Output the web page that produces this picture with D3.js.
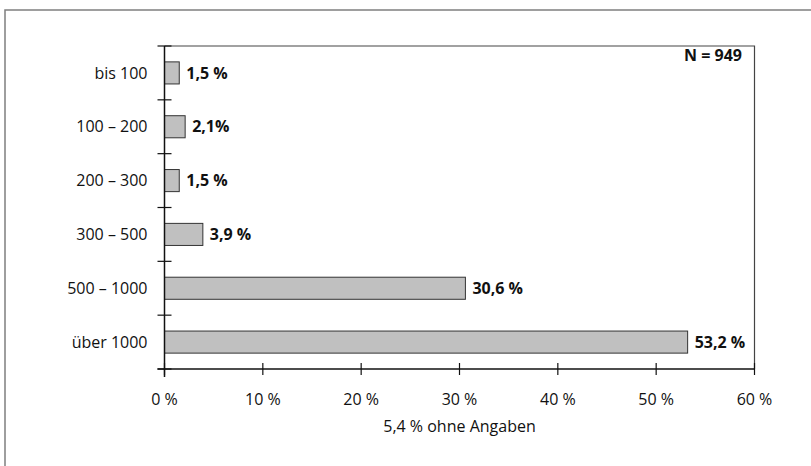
<!DOCTYPE html>
<html><head><meta charset="utf-8">
<script src="https://cdn.jsdelivr.net/npm/d3@7/dist/d3.min.js"></script>
<style>body{margin:0;background:#fff}svg{display:block;font-family:"Open Sans",sans-serif}</style>
</head><body><svg id="c" width="811" height="466"></svg>
<script>
const categories = ["bis 100","100 – 200","200 – 300","300 – 500","500 – 1000","über 1000"];
const values = [1.5, 2.1, 1.5, 3.9, 30.6, 53.2];
const valueLabels = ["1,5 %","2,1%","1,5 %","3,9 %","30,6 %","53,2 %"];
const xTicks = [0,10,20,30,40,50,60];
const xTickLabels = ["0 %","10 %","20 %","30 %","40 %","50 %","60 %"];
const nLabel = "N = 949";
const footnote = "5,4 % ohne Angaben";

const FS = 16;
const svg = d3.select("#c");
// outer frame
svg.append("rect").attr("x",5).attr("y",10).attr("width",900).attr("height",600)
  .attr("fill","none").attr("stroke","#7f7f7f").attr("stroke-width",1.5);

const L=164.5, R=754.5, T=46, B=369;
const x = d3.scaleLinear().domain([0,60]).range([L,R]);
const y = d3.scaleBand().domain(categories).range([T,B]).paddingInner(0.59).paddingOuter(0.295);
const yb = d3.scaleLinear().domain([0,categories.length]).range([T,B]);

// plot border (top/right)
svg.append("path").attr("d",`M${L},${T}H${R}V${B}`).attr("fill","none").attr("stroke","#444").attr("stroke-width",1.2);

// bars
svg.selectAll("rect.bar").data(values).join("rect").attr("class","bar")
  .attr("x",x(0)).attr("y",(d,i)=>y(categories[i]))
  .attr("width",d=>x(d)-x(0)).attr("height",y.bandwidth())
  .attr("fill","#c0c0c0").attr("stroke","#333").attr("stroke-width",1);

// value labels
svg.selectAll("text.val").data(values).join("text").attr("class","val")
  .attr("x",d=>x(d)+7).attr("y",(d,i)=>y(categories[i])+y.bandwidth()/2)
  .attr("dy","0.35em").attr("font-weight","bold").attr("font-size",FS).attr("fill","#111")
  .text((d,i)=>valueLabels[i]);

// y axis line and ticks
svg.append("line").attr("x1",L).attr("x2",L).attr("y1",T).attr("y2",B+8).attr("stroke","#111").attr("stroke-width",1.5);
svg.selectAll("line.yt").data(d3.range(categories.length+1)).join("line").attr("class","yt")
  .attr("x1",L-7).attr("x2",L+7).attr("y1",d=>yb(d)).attr("y2",d=>yb(d))
  .attr("stroke","#111").attr("stroke-width",1.2);
svg.selectAll("text.cat").data(categories).join("text").attr("class","cat")
  .attr("x",L-17).attr("y",d=>y(d)+y.bandwidth()/2).attr("dy","0.35em")
  .attr("text-anchor","end").attr("font-size",FS).attr("fill","#111").text(d=>d);

// x axis
svg.append("line").attr("x1",L-7).attr("x2",R).attr("y1",B).attr("y2",B).attr("stroke","#111").attr("stroke-width",1.5);
svg.selectAll("line.xt").data(xTicks).join("line").attr("class","xt")
  .attr("x1",d=>x(d)).attr("x2",d=>x(d)).attr("y1",B-6).attr("y2",B+6)
  .attr("stroke","#111").attr("stroke-width",1.2);
svg.selectAll("text.xl").data(xTicks).join("text").attr("class","xl")
  .attr("x",d=>x(d)).attr("y",B+30).attr("dy","0.35em").attr("text-anchor","middle")
  .attr("font-size",FS).attr("fill","#111").text((d,i)=>xTickLabels[i]);

svg.append("text").attr("x",(L+R)/2).attr("y",B+57).attr("dy","0.35em").attr("text-anchor","middle")
  .attr("font-size",FS).attr("fill","#111").text(footnote);
svg.append("text").attr("x",742).attr("y",55).attr("dy","0.35em").attr("text-anchor","end")
  .attr("font-weight","bold").attr("font-size",FS).attr("fill","#111").text(nLabel);
</script></body></html>
